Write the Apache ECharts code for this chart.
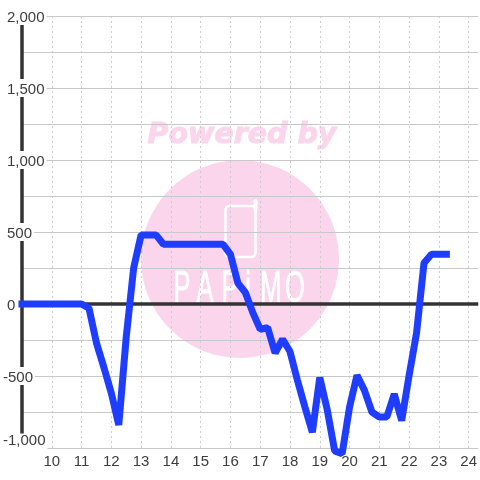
<!DOCTYPE html>
<html>
<head>
<meta charset="utf-8">
<style>html,body{margin:0;padding:0;background:#fff}#c{width:480px;height:480px}</style>
<script src="https://cdn.jsdelivr.net/npm/echarts@6/dist/echarts.min.js"></script>
</head>
<body>
<div id="c"></div>
<script>
var hours = [9,9.25,9.5,9.75,10,10.25,10.5,10.75,11,11.25,11.5,11.75,12,12.25,12.5,12.75,13,13.25,13.5,13.75,14,14.25,14.5,14.75,15,15.25,15.5,15.75,16,16.25,16.5,16.75,17,17.25,17.5,17.75,18,18.25,18.5,18.75,19,19.25,19.5,19.75,20,20.25,20.5,20.75,21,21.25,21.5,21.75,22,22.25,22.5,22.75,23,23.25];
var values = [0,0,0,0,0,0,0,0,0,-30,-270,-440,-620,-840,-230,250,480,480,480,415,415,415,415,415,415,415,415,415,345,145,80,-60,-175,-165,-340,-245,-330,-530,-715,-890,-510,-735,-1020,-1040,-715,-495,-600,-750,-785,-785,-625,-810,-495,-200,285,345,345,345];
var yLabelTicks = [2000,1500,1000,500,0];
var yNegTicks = [-500,-1000];
var watermarkTop = 'Powered by';
var watermarkLetters = ['P','A','P','i','M','O'];

var points = hours.map(function(h,i){return [h,values[i]];});
var PINK = '#fbd5ec';
var txt = '#3d3d3d';
var fontFamily = '"Liberation Sans", Arial, sans-serif';
function fmt(list){return function(v){
  if(list.indexOf(v)<0) return '';
  return '{'+(v===-1000?'m':'a')+'|'+v.toLocaleString('en-US')+'}';
};}
var labelRich = {
  a:{color:txt,fontSize:15,fontFamily:fontFamily,padding:[3,0,0,0]},
  m:{color:txt,fontSize:15,fontFamily:fontFamily,padding:[0,0,14,0]}
};

var letterX = [182,205,230,248,271,295];
var graphics = [
  {type:'circle',z:-10,shape:{cx:240,cy:259,r:99},style:{fill:PINK},silent:true},
  {type:'text',z:-9,x:242,y:136,silent:true,style:{text:watermarkTop,fill:PINK,stroke:PINK,lineWidth:1,font:'italic bold 28.5px "DejaVu Sans"',align:'center',verticalAlign:'middle'}},
  {type:'rect',z:-9,silent:true,shape:{x:225.5,y:206,width:30,height:51,r:4},style:{fill:PINK,stroke:'#fff',lineWidth:2.5}},
  {type:'line',z:-8,silent:true,shape:{x1:255.5,y1:210,x2:255.5,y2:201},style:{stroke:'#fff',lineWidth:4,lineCap:'round'}}
];
watermarkLetters.forEach(function(l,i){
  graphics.push({type:'text',z:-9,x:letterX[i],y:290,scaleX:0.58,silent:true,style:{text:l,fill:'#fff',stroke:'#fff',lineWidth:0.8,font:'44px "Liberation Sans"',align:'center',verticalAlign:'middle'}});
});

var chart = echarts.init(document.getElementById('c'),null,{renderer:'canvas'});
chart.setOption({
  animation:false,
  backgroundColor:'#fff',
  graphic:graphics,
  grid:{left:20.5,right:0,top:16,bottom:32,containLabel:false},
  xAxis:{type:'value',min:9,max:24.32,interval:1,position:'bottom',
    axisLine:{show:false,onZero:false},axisTick:{show:false},
    axisLabel:{color:txt,fontSize:15,fontFamily:fontFamily,margin:6,showMinLabel:false,showMaxLabel:false,hideOverlap:false,
      formatter:function(v){return Number.isInteger(v)&&v>9?String(v):'';}},
    splitLine:{show:true,showMaxLine:false,lineStyle:{color:'#cccccc',type:[2,3],width:1}}},
  yAxis:[
    {type:'value',min:-1000,max:2000,interval:250,position:'left',
      axisLine:{show:true,onZero:false,lineStyle:{color:'#333',width:3.5}},axisTick:{show:false},
      axisLabel:{color:txt,fontSize:15,fontFamily:fontFamily,align:'left',margin:15,backgroundColor:'#fff',padding:[0,2,0,0],rich:labelRich,formatter:fmt(yLabelTicks)},
      splitLine:{show:true,lineStyle:{color:'#c8c8c8',width:1}}},
    {type:'value',min:-1000,max:2000,interval:250,position:'left',
      axisLine:{show:false,onZero:false},axisTick:{show:false},
      axisLabel:{color:txt,fontSize:15,fontFamily:fontFamily,align:'left',margin:19,backgroundColor:'#fff',padding:[0,2,0,0],rich:labelRich,formatter:fmt(yNegTicks)},
      splitLine:{show:false}}
  ],
  series:[{
    type:'line',data:points,yAxisIndex:0,showSymbol:false,symbol:'none',z:5,silent:true,clip:false,
    lineStyle:{color:'#1f3dff',width:7,cap:'square',join:'bevel'},
    markLine:{silent:true,z:3,symbol:'none',label:{show:false},lineStyle:{color:'#333',width:3.5,type:'solid'},data:[{yAxis:0}]}
  }]
});
</script>
</body>
</html>
